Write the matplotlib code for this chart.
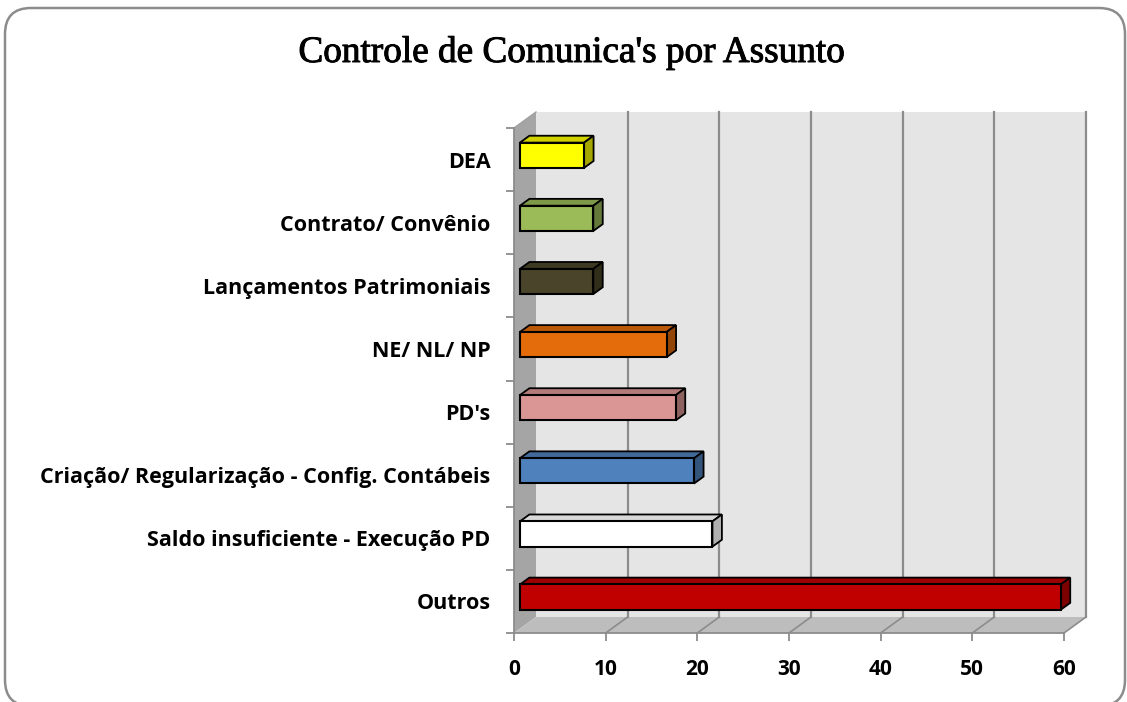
import numpy as np
import matplotlib.pyplot as plt
import matplotlib.patheffects as pe
from matplotlib.patches import Polygon, FancyBboxPatch

# data (bottom to top, as drawn)
categories = ['Outros', 'Saldo insuficiente - Execução PD',
              'Criação/ Regularização - Config. Contábeis', "PD's",
              'NE/ NL/ NP', 'Lançamentos Patrimoniais',
              'Contrato/ Convênio', 'DEA']
values = [59, 21, 19, 17, 16, 8, 8, 7]
colors = ['#c00000', '#ffffff', '#4f81bd', '#d99694',
          '#e46c0a', '#4a452a', '#9bbb59', '#ffff00']
xticks = [0, 10, 20, 30, 40, 50, 60]


def shade(c, f):
    rgb = np.array(plt.matplotlib.colors.to_rgb(c))
    return tuple(rgb * f)


def main():
    plt.rcParams['font.family'] = ['Open Sans', 'DejaVu Sans']
    W, H = 1127, 702
    fig = plt.figure(figsize=(W / 100, H / 100), dpi=100)

    # background axes in pixel units for the rounded border
    bg = fig.add_axes([0, 0, 1, 1])
    bg.set_xlim(0, W)
    bg.set_ylim(0, H)
    bg.axis('off')
    bg.add_patch(FancyBboxPatch((5, -4), 1120, 698,
                                boxstyle='round,pad=0,rounding_size=26',
                                fill=False, edgecolor='#8c8c8c', lw=1.8, clip_on=False))

    # title, slightly thickened to look like the heavier original face
    fig.text(572 / W, 1 - 62 / H, "Controle de Comunica's por Assunto",
             ha='center', va='baseline', fontsize=26.8,
             family='Liberation Serif',
             path_effects=[pe.withStroke(linewidth=0.7, foreground='black')])

    ax = fig.add_axes([514 / W, 1 - 633 / H, 550 / W, 505 / H])
    ax.set_xlim(0, 60)
    ax.set_ylim(0, 8)
    ax.patch.set_visible(False)

    xmax = xticks[-1]
    n = len(categories)
    # depth offset in data units
    dx = 22 / (550 / xmax)
    dy = 16 / (505 / n)

    # walls
    back = Polygon([(dx, dy), (xmax + dx, dy), (xmax + dx, n + dy), (dx, n + dy)],
                   closed=True, facecolor='#e5e5e5', edgecolor='none', zorder=0, clip_on=False)
    left = Polygon([(0, 0), (dx, dy), (dx, n + dy), (0, n)],
                   closed=True, facecolor='#a5a5a5', edgecolor='none', zorder=1, clip_on=False)
    floor = Polygon([(0, 0), (xmax, 0), (xmax + dx, dy), (dx, dy)],
                    closed=True, facecolor='#bdbdbd', edgecolor='none', zorder=1, clip_on=False)
    for p in (back, left, floor):
        ax.add_patch(p)

    # gridlines on back wall and floor
    for x in xticks[1:]:
        ax.plot([x + dx, x + dx], [dy, n + dy], color='#8c8c8c', lw=1.6, zorder=2, clip_on=False)
        ax.plot([x, x + dx], [0, dy], color='#8c8c8c', lw=1.2, zorder=2, clip_on=False)
    ax.plot([0, dx], [n, n + dy], color='#a0a0a0', lw=1.0, zorder=2, clip_on=False)

    # bars
    z0, z1 = 0.27, 0.70
    h = 0.4
    for i, (v, c) in enumerate(zip(values, colors)):
        x0 = z0 * dx
        y0 = i + 0.5 - h / 2 + z0 * dy
        ddx = (z1 - z0) * dx
        ddy = (z1 - z0) * dy
        top_c = shade(c, 0.82) if c != '#ffffff' else '#d9d9d9'
        side_c = shade(c, 0.65) if c != '#ffffff' else '#b0b0b0'
        ax.add_patch(Polygon([(x0, y0 + h), (x0 + v, y0 + h), (x0 + v + ddx, y0 + h + ddy),
                              (x0 + ddx, y0 + h + ddy)], closed=True, facecolor=top_c,
                             edgecolor='black', lw=1.3, zorder=5, clip_on=False))
        ax.add_patch(Polygon([(x0 + v, y0), (x0 + v + ddx, y0 + ddy), (x0 + v + ddx, y0 + h + ddy),
                              (x0 + v, y0 + h)], closed=True, facecolor=side_c,
                             edgecolor='black', lw=1.3, zorder=5, clip_on=False))
        ax.barh(i + 0.5 + z0 * dy, v, height=h, left=x0, color=c,
                edgecolor='black', lw=1.5, zorder=6, clip_on=False)

    # axes styling
    for s in ('top', 'right'):
        ax.spines[s].set_visible(False)
    for s in ('left', 'bottom'):
        ax.spines[s].set_color('#8c8c8c')
        ax.spines[s].set_linewidth(1.3)
        ax.spines[s].set_zorder(3)

    ax.set_xticks(xticks)
    ax.set_xticklabels([str(t) for t in xticks], fontsize=15, fontweight='bold')
    ax.set_yticks(range(n + 1))
    ax.set_yticklabels([])
    ax.set_yticks([i + 0.5 for i in range(n)], minor=True)
    ax.set_yticklabels(categories, minor=True, fontsize=15.5, fontweight='bold')
    ax.tick_params(axis='both', which='major', length=6, color='#8c8c8c', width=1.3)
    ax.tick_params(axis='x', pad=13)
    ax.tick_params(axis='y', which='minor', length=0, pad=17)

    fig.savefig('out.png', dpi=100)


if __name__ == '__main__':
    main()
